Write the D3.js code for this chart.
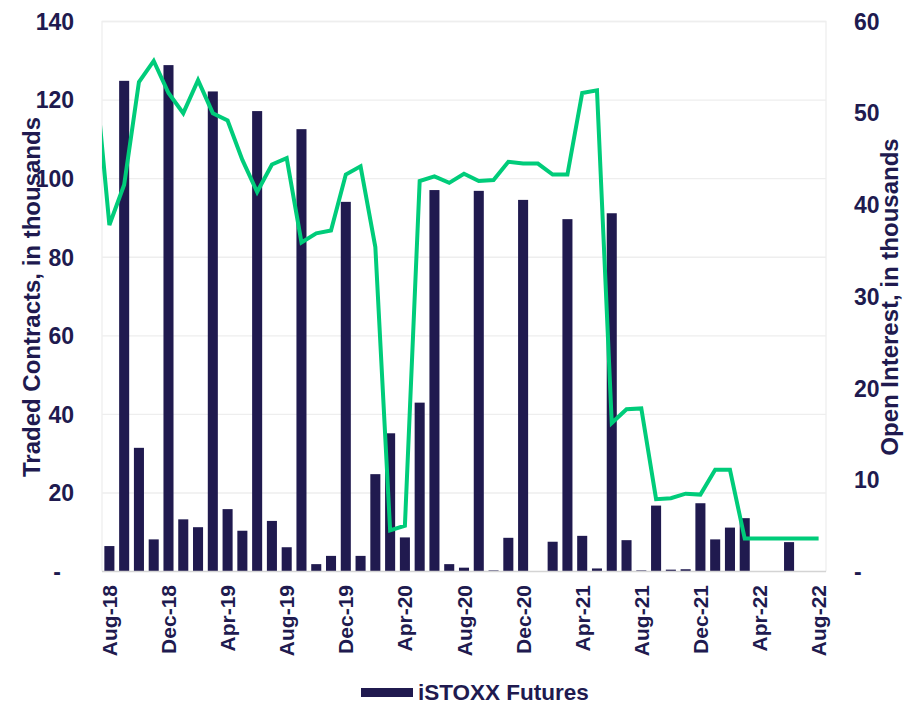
<!DOCTYPE html>
<html lang="en">
<head>
  <meta charset="UTF-8">
  <title>iSTOXX Futures</title>
  <script src="https://d3js.org/d3.v7.min.js"></script>
  <style>
    body { margin: 0; background: #fff; }
    svg text { font-family: "Liberation Sans", Arial, sans-serif; font-weight: bold; fill: #201a4f; }
  </style>
</head>
<body>
<script>
    // months on the x axis
    const months = ["Aug-18","Sep-18","Oct-18","Nov-18","Dec-18","Jan-19","Feb-19","Mar-19","Apr-19","May-19","Jun-19","Jul-19",
        "Aug-19","Sep-19","Oct-19","Nov-19","Dec-19","Jan-20","Feb-20","Mar-20","Apr-20","May-20","Jun-20","Jul-20",
        "Aug-20","Sep-20","Oct-20","Nov-20","Dec-20","Jan-21","Feb-21","Mar-21","Apr-21","May-21","Jun-21","Jul-21",
        "Aug-21","Sep-21","Oct-21","Nov-21","Dec-21","Jan-22","Feb-22","Mar-22","Apr-22","May-22","Jun-22","Jul-22","Aug-22"];

    // traded contracts, thousands (bars, left axis)
    const traded = [6.5,124.9,31.5,8.2,128.9,13.3,11.3,122.2,15.9,10.4,117.2,12.9,
        6.2,112.6,1.9,4.0,94.1,4.0,24.8,35.2,8.7,43.0,97.1,1.9,
        1.0,96.9,0.3,8.6,94.6,0,7.6,89.7,9.1,0.8,91.2,8.0,
        0.3,16.8,0.5,0.6,17.4,8.2,11.2,13.6,0,0,7.5,0,0];

    // open interest, thousands (line, right axis); Jul-18 value sits off the left edge
    const oiJul18 = 55;
    const openInterest = [37.8,42.2,53.4,55.7,52.2,50.0,53.6,50.0,49.2,44.9,41.4,44.4,
        45.1,35.9,36.9,37.2,43.3,44.2,35.4,4.5,5.0,42.6,43.1,42.4,
        43.4,42.6,42.7,44.7,44.5,44.5,43.3,43.3,52.2,52.5,16.2,17.7,
        17.8,7.9,8.0,8.5,8.4,11.1,11.1,3.6,3.6,3.6,3.6,3.6,3.6];

    const leftTicks = [0,20,40,60,80,100,120,140];
    const rightTicks = [0,10,20,30,40,50,60];
    const xLabels = months.filter((d, i) => i % 4 === 0);

    const navy = "#201a4f", green = "#00cc7a";
    const m = { left: 102, right: 826, top: 21.5, bottom: 571.6 };

    const svg = d3.select("body").append("svg")
        .attr("width", 908)
        .attr("height", 705);

    const x = d3.scaleBand().domain(months).range([m.left, m.right])
        .paddingInner(0.32).paddingOuter(0.16);
    const step = x.step();
    const cx = i => m.left + step * (i + 0.5);
    const yL = d3.scaleLinear().domain([0, 140]).range([m.bottom, m.top]);
    const yR = d3.scaleLinear().domain([0, 60]).range([m.bottom, m.top]);

    // gridlines
    svg.append("g").selectAll("line")
        .data(leftTicks.filter(d => d > 0))
        .enter().append("line")
        .attr("x1", m.left).attr("x2", m.right)
        .attr("y1", d => yL(d)).attr("y2", d => yL(d))
        .attr("stroke", "#eeeeee").attr("stroke-width", 1.3);

    // plot border (left/right)
    svg.append("path")
        .attr("d", `M${m.left},${m.bottom}V${m.top}H${m.right}V${m.bottom}`)
        .attr("fill", "none").attr("stroke", "#eeeeee").attr("stroke-width", 1.3);

    // bars
    svg.append("g").selectAll("rect")
        .data(traded)
        .enter().append("rect")
        .attr("x", (d, i) => x(months[i]))
        .attr("width", x.bandwidth())
        .attr("y", d => yL(d))
        .attr("height", d => yL(0) - yL(d))
        .attr("fill", navy);

    // x axis line
    svg.append("line")
        .attr("x1", m.left).attr("x2", m.right)
        .attr("y1", m.bottom).attr("y2", m.bottom)
        .attr("stroke", "#d4d4d4").attr("stroke-width", 1.5);

    // open interest line, clipped to the plot area
    svg.append("defs").append("clipPath").attr("id", "plot")
        .append("rect")
        .attr("x", m.left).attr("y", 0)
        .attr("width", m.right - m.left).attr("height", 705);

    const linePts = [[cx(-1), oiJul18]].concat(openInterest.map((v, i) => [cx(i), v]));
    svg.append("path")
        .datum(linePts)
        .attr("clip-path", "url(#plot)")
        .attr("d", d3.line().x(d => d[0]).y(d => yR(d[1])))
        .attr("fill", "none")
        .attr("stroke", green)
        .attr("stroke-width", 4)
        .attr("stroke-linejoin", "miter");

    // left tick labels
    svg.append("g").selectAll("text")
        .data(leftTicks)
        .enter().append("text")
        .attr("x", d => d === 0 ? 61 : 74)
        .attr("y", d => yL(d))
        .attr("dy", "0.36em")
        .attr("text-anchor", "end")
        .attr("font-size", 23)
        .text(d => d === 0 ? "-" : d);

    // right tick labels
    svg.append("g").selectAll("text")
        .data(rightTicks)
        .enter().append("text")
        .attr("x", 854)
        .attr("y", d => yR(d))
        .attr("dy", "0.36em")
        .attr("font-size", 23)
        .text(d => d === 0 ? "-" : d);

    // x tick labels
    svg.append("g").selectAll("text")
        .data(xLabels)
        .enter().append("text")
        .attr("transform", d => `translate(${x(d) + x.bandwidth() / 2},585) rotate(-90)`)
        .attr("dy", "0.36em")
        .attr("text-anchor", "end")
        .attr("font-size", 21)
        .text(d => d);

    // axis titles
    svg.append("text")
        .attr("transform", "translate(40,297) rotate(-90)")
        .attr("text-anchor", "middle")
        .attr("font-size", 24)
        .text("Traded Contracts, in thousands");

    svg.append("text")
        .attr("transform", "translate(898,297) rotate(-90)")
        .attr("text-anchor", "middle")
        .attr("font-size", 24)
        .text("Open Interest, in thousands");

    // legend
    const lg = svg.append("g");
    lg.append("rect")
        .attr("x", 361).attr("y", 688)
        .attr("width", 52).attr("height", 9)
        .attr("fill", navy);
    lg.append("text")
        .attr("x", 418).attr("y", 700)
        .attr("font-size", 22.5)
        .text("iSTOXX Futures");
</script>
</body>
</html>
